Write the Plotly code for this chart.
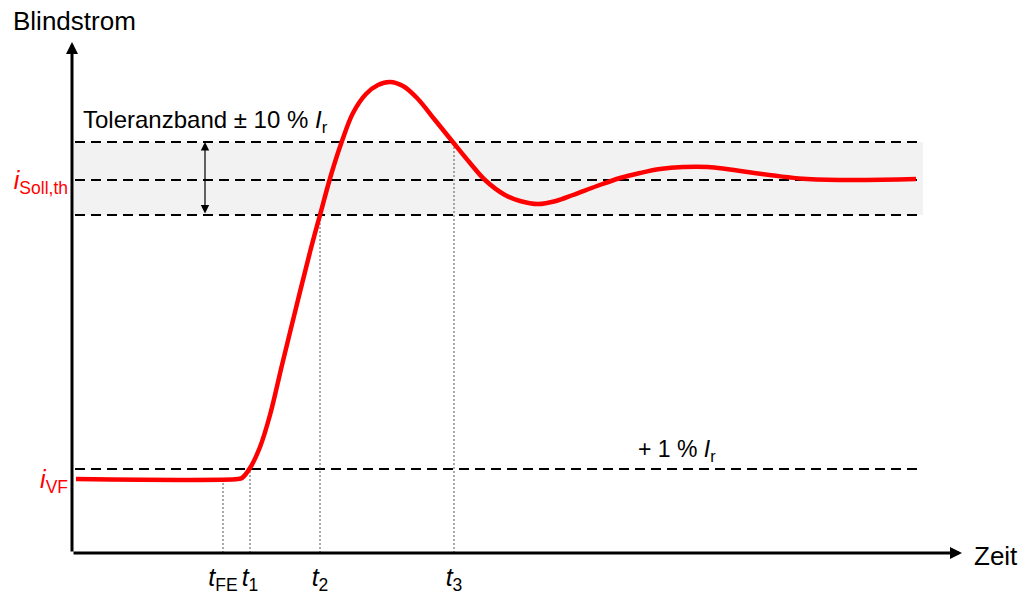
import plotly.graph_objects as go

# Step response of the reactive current (Blindstrom) over time, arbitrary units
t = [4, 166, 170, 178, 188, 198, 210, 224, 238, 248, 259, 270, 281, 294, 306,
     318, 331, 345, 363, 380, 398, 413, 433, 448, 466, 484, 501, 525, 548,
     568, 588, 611, 636, 735, 844]
i_blind = [74, 74, 75, 85, 106, 138, 188, 245, 301, 338, 378, 412, 440, 459,
           468, 471, 467, 455, 433, 412, 390, 373, 358, 352, 349, 352, 358,
           367, 375, 380, 384, 386, 386, 374, 374]

# Reference levels
i_vf = 74          # pre-fault current
i_plus1 = 84       # +1 % I_r threshold
i_soll = 373       # set point i_Soll,th
band_low = 338     # -10 % I_r
band_high = 411    # +10 % I_r

# Characteristic instants
t_marks = [151, 178, 248, 382]
t_tops = [i_vf, i_plus1, band_low, band_high]
t_labels = ["<i>t</i><sub>FE</sub>", "<i>t</i><sub>1</sub>",
            "<i>t</i><sub>2</sub>", "<i>t</i><sub>3</sub>"]

y_ticks = [i_vf, i_soll]
y_labels = ["<i>i</i><sub>VF</sub>", "<i>i</i><sub>Soll,th</sub>"]

x_start, x_end = 3, 851
x_tip, y_tip = 890, 511

FONT = "Liberation Sans, Arial, sans-serif"

fig = go.Figure()

# Tolerance band
fig.add_shape(type="rect", x0=x_start - 1, x1=x_end, y0=band_low, y1=band_high,
              fillcolor="#f2f2f2", line_width=0, layer="below")

# Dashed reference lines
for lvl in [band_high, i_soll, band_low, i_plus1]:
    fig.add_trace(go.Scatter(x=[x_start, x_end], y=[lvl, lvl], mode="lines",
                             line=dict(color="black", width=2, dash="10px,6px"),
                             hoverinfo="skip", showlegend=False))

# Dotted drop lines to the time axis
for tm, top in zip(t_marks, t_tops):
    fig.add_trace(go.Scatter(x=[tm, tm], y=[0, top], mode="lines",
                             line=dict(color="#555555", width=1, dash="2px,2px"),
                             hoverinfo="skip", showlegend=False))

# Current curve
fig.add_trace(go.Scatter(x=t, y=i_blind, mode="lines",
                         line=dict(color="#ff0000", width=4.5, shape="spline",
                                   smoothing=1),
                         hoverinfo="skip", showlegend=False))

annotations = [
    # axes with arrow heads
    dict(x=x_tip, y=0, ax=0, ay=0, xref="x", yref="y", axref="x", ayref="y",
         text="", showarrow=True, arrowhead=2, arrowsize=0.8, arrowwidth=3,
         arrowcolor="black", standoff=0, startstandoff=0),
    dict(x=0, y=y_tip, ax=0, ay=0, xref="x", yref="y", axref="x", ayref="y",
         text="", showarrow=True, arrowhead=2, arrowsize=0.8, arrowwidth=3,
         arrowcolor="black", standoff=0, startstandoff=0),
    # tolerance band width marker
    dict(x=133, y=band_high, ax=133, ay=band_low, xref="x", yref="y",
         axref="x", ayref="y", text="", showarrow=True, arrowhead=2,
         arrowside="end+start", arrowsize=1.4, arrowwidth=1.2,
         arrowcolor="black", standoff=0, startstandoff=0),
    dict(x=9, y=432, xref="x", yref="y", xanchor="left", yanchor="middle",
         text="Toleranzband ± 10 % <i>I</i><sub>r</sub>", showarrow=False,
         font=dict(size=24, color="black", family=FONT)),
    dict(x=564, y=103, xref="x", yref="y", xanchor="left", yanchor="middle",
         text="+ 1 % <i>I</i><sub>r</sub>", showarrow=False,
         font=dict(size=23, color="black", family=FONT)),
    dict(x=-61 / 949, y=532 / 553, xref="paper", yref="paper",
         xanchor="left", yanchor="middle", text="Blindstrom", showarrow=False,
         font=dict(size=26, color="black", family=FONT)),
    dict(x=900 / 949, y=-3 / 553, xref="paper", yref="paper",
         xanchor="left", yanchor="middle", text="Zeit", showarrow=False,
         font=dict(size=26, color="black", family=FONT)),
]

fig.update_layout(
    width=1021, height=598,
    margin=dict(l=72, r=0, t=0, b=45, pad=0),
    plot_bgcolor="white", paper_bgcolor="white",
    annotations=annotations,
    xaxis=dict(range=[0, 949], showgrid=False, zeroline=False, showline=False,
               ticks="", tickvals=t_marks, ticktext=t_labels,
               tickfont=dict(size=25, color="black", family=FONT),
               ticklabelstandoff=7, fixedrange=True),
    yaxis=dict(range=[0, 553], showgrid=False, zeroline=False, showline=False,
               ticks="", tickvals=y_ticks, ticktext=y_labels,
               tickfont=dict(size=25, color="#ff0000", family=FONT),
               ticklabelstandoff=3, fixedrange=True),
)

fig.write_html("out.html")
